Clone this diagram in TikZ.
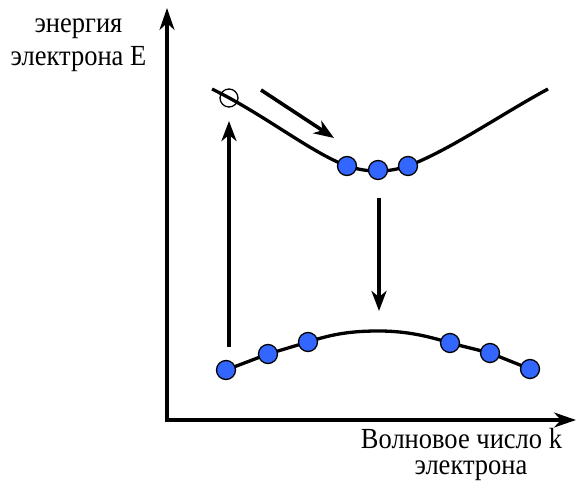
\documentclass[tikz,border=0pt]{standalone}
\usepackage{fontspec}
\setmainfont{Liberation Serif}
\usetikzlibrary{arrows.meta}
\definecolor{dotblue}{RGB}{51,102,255}
\tikzset{
  ax/.style={line width=3.2pt,-{Stealth[length=22pt,width=15pt,inset=7pt]}},
  arr/.style={line width=3.6pt,-{Stealth[length=20pt,width=15pt,inset=6pt]}},
  band/.style={line width=3.3pt},
  el/.style={circle,draw=black,line width=1.3pt,fill=dotblue,minimum size=19pt,inner sep=0pt},
  hole/.style={circle,draw=black,line width=1.3pt,minimum size=18pt,inner sep=0pt},
  lbl/.style={font=\fontsize{26.5}{30}\selectfont,anchor=base,inner sep=0pt}
}
\newcommand{\tall}[1]{\scalebox{1}[1.1]{#1}}
\begin{document}
\begin{tikzpicture}[x=1pt,y=-1pt]
\useasboundingbox (0,0) rectangle (576,481);
% axes
\coordinate (O) at (167,420);
\coordinate (Ytop) at (167,8);
\coordinate (Xend) at (576,420);
\draw[ax] ([yshift=-1.6pt]O) -- (Ytop);
\draw[ax] ([xshift=-1.6pt]O) -- (Xend);
% labels
\node[lbl] (ylab1) at (78.5,33) {\tall{энергия}};
\node[lbl] (ylab2) at (78.5,66) {\tall{электрона E}};
\node[lbl] (xlab1) at (461.5,448) {\tall{Волновое число k}};
\node[lbl] (xlab2) at (471,474) {\tall{электрона}};
% conduction band
\draw[band] (212,89) .. controls (265,115) and (310,152) .. (347,166)
  .. controls (360,170) and (368,171) .. (378,171)
  .. controls (390,171) and (398,169) .. (408,166)
  .. controls (450,150) and (500,115) .. (548,89);
% valence band
\draw[band] (226,370) -- (268,354) -- (308,342)
  .. controls (335,333) and (355,331) .. (379,331)
  .. controls (403,331) and (425,335) .. (450,343)
  -- (490,353) -- (530,369);
% hole
\node[hole] (h) at (229,98) {};
% electrons
\node[el] (c1) at (347,166) {};
\node[el] (c2) at (378,170) {};
\node[el] (c3) at (408,166) {};
\node[el] (v1) at (226,370) {};
\node[el] (v2) at (268,354) {};
\node[el] (v3) at (308,342) {};
\node[el] (v4) at (450,343) {};
\node[el] (v5) at (490,353) {};
\node[el] (v6) at (530,369) {};
% arrows
\coordinate (a1s) at (229,347);
\coordinate (a1e) at (229,121);
\draw[arr] (a1s) -- (a1e);
\coordinate (a2s) at (261,90);
\coordinate (a2e) at (334,138);
\draw[arr] (a2s) -- (a2e);
\coordinate (a3s) at (379,198);
\coordinate (a3e) at (379,311);
\draw[arr] (a3s) -- (a3e);
\end{tikzpicture}
\end{document}
